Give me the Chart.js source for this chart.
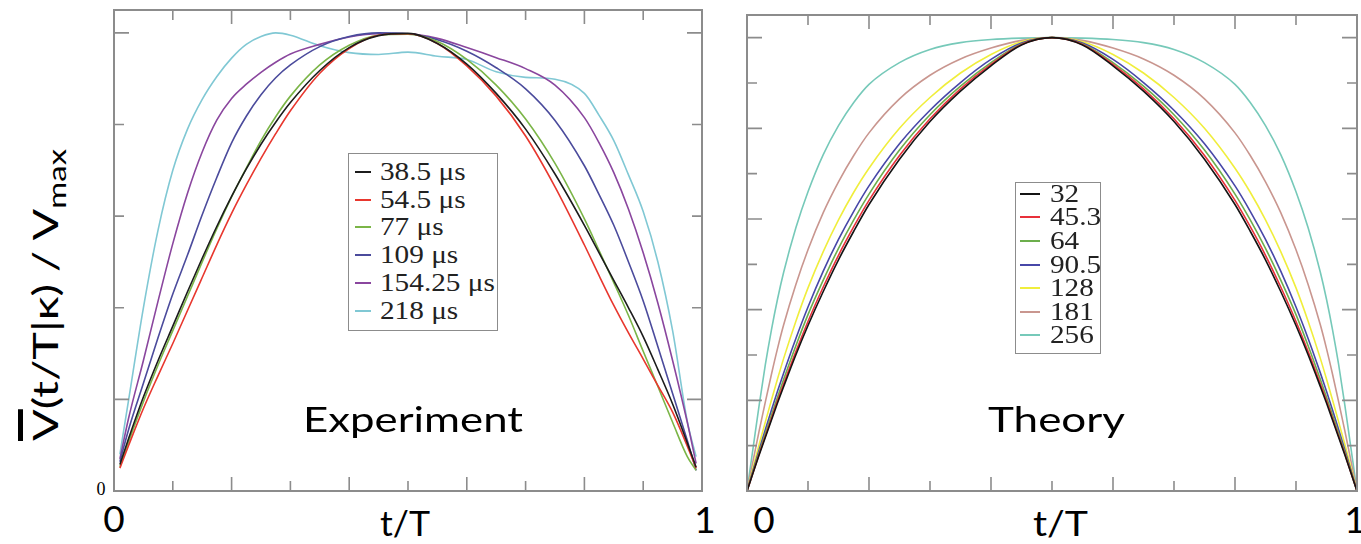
<!DOCTYPE html>
<html><head><meta charset="utf-8">
<script src="https://cdn.jsdelivr.net/npm/chart.js@4.4.0/dist/chart.umd.min.js"></script>
<style>
html,body{margin:0;padding:0;background:#fff;width:1361px;height:544px;overflow:hidden;position:relative;}
.cv{position:absolute;}
.txt{position:absolute;white-space:nowrap;line-height:1;}
.fit{display:inline-block;transform-origin:0 0;white-space:nowrap;}
.lbox{position:absolute;border:1.5px solid #8c8c8c;background:#fff;box-sizing:border-box;}
.sw{position:absolute;height:2px;}
</style></head><body>
<div class="cv" style="left:111px;top:7px;"><canvas id="cL" width="594" height="487"></canvas></div>
<div class="cv" style="left:744px;top:12px;"><canvas id="cR" width="616" height="482"></canvas></div>
<script>
// ---------- DATA ----------
const T_EXP = [0.01,0.025,0.05,0.075,0.1,0.125,0.15,0.175,0.2,0.225,0.25,0.275,0.3,0.35,0.4,0.45,0.5,0.55,0.6,0.65,0.7,0.75,0.8,0.825,0.85,0.875,0.9,0.925,0.95,0.975,0.99];
const EXP_LABELS = ['38.5 μs','54.5 μs','77 μs','109 μs','154.25 μs','218 μs'];
const EXP_38_5 = [0.058,0.115,0.205,0.285,0.36,0.435,0.508,0.578,0.643,0.703,0.757,0.805,0.848,0.918,0.968,0.994,0.999,0.977,0.932,0.868,0.79,0.692,0.58,0.52,0.46,0.4,0.337,0.265,0.19,0.105,0.052];
const EXP_54_5 = [0.05,0.10,0.18,0.252,0.322,0.394,0.466,0.538,0.606,0.668,0.726,0.78,0.83,0.912,0.966,0.995,0.998,0.977,0.928,0.862,0.775,0.664,0.537,0.47,0.405,0.345,0.288,0.23,0.172,0.098,0.05];
const EXP_77 = [0.053,0.108,0.195,0.275,0.35,0.425,0.5,0.573,0.642,0.705,0.765,0.817,0.862,0.93,0.973,0.995,0.997,0.981,0.942,0.886,0.812,0.715,0.594,0.525,0.455,0.383,0.305,0.228,0.15,0.075,0.045];
const EXP_109 = [0.064,0.135,0.235,0.335,0.43,0.515,0.603,0.685,0.76,0.818,0.865,0.902,0.93,0.97,0.992,1.0,0.998,0.985,0.96,0.924,0.878,0.809,0.71,0.647,0.58,0.5,0.415,0.315,0.213,0.11,0.045];
const EXP_154_25 = [0.07,0.16,0.285,0.415,0.54,0.65,0.74,0.81,0.857,0.888,0.914,0.936,0.954,0.975,0.991,0.998,0.998,0.988,0.968,0.946,0.922,0.886,0.815,0.76,0.695,0.615,0.52,0.41,0.285,0.15,0.06];
const EXP_218 = [0.08,0.2,0.4,0.57,0.7,0.79,0.855,0.905,0.945,0.975,0.992,1.0,0.995,0.972,0.957,0.953,0.958,0.949,0.942,0.915,0.903,0.899,0.868,0.82,0.765,0.69,0.61,0.5,0.35,0.152,0.075];

const T_TH = [0,0.01,0.02,0.03,0.04,0.05,0.06,0.08,0.1,0.125,0.15,0.175,0.2,0.25,0.3,0.35,0.4,0.45,0.5,0.55,0.6,0.65,0.7,0.75,0.8,0.825,0.85,0.875,0.9,0.92,0.94,0.95,0.96,0.97,0.98,0.99,1];
const TH_LABELS = ['32','45.3','64','90.5','128','181','256'];
const TH_32 = [0,.04,.08,.118,.156,.194,.23,.3,.365,.44,.51,.573,.632,.732,.815,.882,.938,.984,1,.984,.938,.882,.815,.732,.632,.573,.51,.44,.365,.3,.23,.194,.156,.118,.08,.04,0];
const TH_45_3 = [0,.041,.082,.121,.16,.199,.236,.307,.374,.45,.52,.583,.641,.74,.821,.887,.941,.985,1,.985,.941,.887,.821,.74,.641,.583,.52,.45,.374,.307,.236,.199,.16,.121,.082,.041,0];
const TH_64 = [0,.043,.086,.127,.167,.207,.246,.32,.389,.465,.535,.598,.655,.752,.83,.893,.945,.986,1,.986,.945,.893,.83,.752,.655,.598,.535,.465,.389,.32,.246,.207,.167,.127,.086,.043,0];
const TH_90_5 = [0,.046,.091,.135,.178,.22,.26,.336,.406,.485,.555,.617,.673,.766,.84,.901,.952,.988,1,.988,.952,.901,.84,.766,.673,.617,.555,.485,.406,.336,.26,.22,.178,.135,.091,.046,0];
const TH_128 = [0,.052,.103,.152,.2,.247,.292,.374,.448,.528,.598,.659,.712,.8,.868,.922,.963,.991,1,.991,.963,.922,.868,.8,.712,.659,.598,.528,.448,.374,.292,.247,.2,.152,.103,.052,0];
const TH_181 = [0,.067,.133,.196,.257,.314,.366,.455,.532,.614,.682,.74,.79,.865,.917,.953,.977,.994,1,.994,.977,.953,.917,.865,.79,.74,.682,.614,.532,.455,.366,.314,.257,.196,.133,.067,0];
const TH_256 = [0,.095,.19,.278,.355,.423,.482,.58,.66,.742,.806,.857,.897,.945,.974,.989,.996,.999,1,.999,.996,.989,.974,.945,.897,.857,.806,.742,.66,.58,.482,.423,.355,.278,.19,.095,0];

const X_MAJOR = [0.2,0.4,0.6,0.8];
const X_MINOR = [0.1,0.3,0.5,0.7,0.9];
const Y_MAJOR_EXP = [0.2,1.0];
const Y_MINOR_EXP = [0.4,0.6,0.8];
const Y_MAJOR_TH = [0.2,0.4,0.6,0.8,1.0];
const Y_MINOR_TH = [0.1,0.3,0.5,0.7,0.9];

// ---------- STYLE ----------
const EXP_COLORS = ['#1c1c1c','#e8372e','#7bb547','#4b4b9c','#8a469e','#80c8d4'];
const TH_COLORS = ['#141414','#e8303a','#6cae4c','#4747a8','#f0ee3c','#c9968f','#76c9b9'];

const frameTicks = {
  id:'frameTicks',
  afterDatasetsDraw(chart, args, o){
    const {ctx, chartArea:a} = chart; const x=chart.scales.x, y=chart.scales.y;
    ctx.save(); ctx.strokeStyle='#8c8c8c'; ctx.lineWidth=1.6; ctx.beginPath();
    const xt=(v,L)=>{const p=x.getPixelForValue(v); ctx.moveTo(p,a.bottom); ctx.lineTo(p,a.bottom-L); ctx.moveTo(p,a.top); ctx.lineTo(p,a.top+L);};
    const yt=(v,L)=>{const p=y.getPixelForValue(v); ctx.moveTo(a.left,p); ctx.lineTo(a.left+L,p); ctx.moveTo(a.right,p); ctx.lineTo(a.right-L,p);};
    o.xMajor.forEach(v=>xt(v,14)); o.xMinor.forEach(v=>xt(v,10));
    o.yMajor.forEach(v=>yt(v,15)); o.yMinor.forEach(v=>yt(v,10));
    ctx.stroke();
    ctx.lineWidth=2; ctx.strokeRect(a.left,a.top,a.right-a.left,a.bottom-a.top);
    ctx.restore();
  }
};

function mk(canvasId, T, series, labels, colors, yMaj, yMin){
  return new Chart(document.getElementById(canvasId), {
    type:'line',
    data:{ datasets: series.map((s,i)=>({label:labels[i], data:T.map((t,j)=>({x:t,y:s[j]})), borderColor:colors[i], backgroundColor:colors[i], borderWidth:1.6, pointRadius:0, cubicInterpolationMode:'monotone', fill:false})) },
    options:{ responsive:false, animation:false, devicePixelRatio:1,
      layout:{padding:3},
      scales:{ x:{type:'linear',min:0,max:1,display:false}, y:{min:0,max:1.05,display:false} },
      plugins:{ legend:{display:false}, tooltip:{enabled:false},
        frameTicks:{xMajor:X_MAJOR,xMinor:X_MINOR,yMajor:yMaj,yMinor:yMin} } },
    plugins:[frameTicks]
  });
}
const chL = mk('cL', T_EXP, [EXP_38_5,EXP_54_5,EXP_77,EXP_109,EXP_154_25,EXP_218], EXP_LABELS, EXP_COLORS, Y_MAJOR_EXP, Y_MINOR_EXP);
const chR = mk('cR', T_TH, [TH_32,TH_45_3,TH_64,TH_90_5,TH_128,TH_181,TH_256], TH_LABELS, TH_COLORS, Y_MAJOR_TH, Y_MINOR_TH);

// ---------- TEXT ----------
const SANS = "Lato, 'Open Sans', sans-serif";
const SERIF = "'Liberation Serif', 'DejaVu Serif', serif";
function place(txt, o){
  const d=document.createElement('div'); d.className='txt';
  d.style.fontSize=o.size+'px'; d.style.fontFamily=o.family||SANS; d.style.color=o.color||'#000';
  const f=document.createElement('span'); f.className='fit';
  if(o.html) f.innerHTML=txt; else f.textContent=txt;
  const m=document.createElement('span'); m.style.cssText='display:inline-block;width:0;height:0;vertical-align:baseline';
  f.appendChild(m); d.appendChild(f); document.body.appendChild(d);
  d.style.left='0px'; d.style.top='0px';
  const w=f.getBoundingClientRect().width;
  const b=m.getBoundingClientRect().top-d.getBoundingClientRect().top;
  const s=o.width? o.width/w : (o.scale||1);
  f.style.transform='scaleX('+s+')';
  if(o.rotate){
    d.style.transformOrigin='0 0'; d.style.transform='rotate(-90deg)';
    d.style.left=(o.x-b)+'px'; d.style.top=o.y+'px';
    return d;
  }
  let left=o.x; if(o.anchor==='center') left=o.x-w*s/2; else if(o.anchor==='right') left=o.x-w*s;
  d.style.left=left+'px'; d.style.top=(o.y-b)+'px';
  return d;
}
// panel texts
place('Experiment',{x:303,y:432,size:35,width:220});
place('Theory',{x:988,y:432,size:35,width:137});
place('0',{x:114,y:532,size:37,anchor:'center'});
place('1',{x:705,y:533,size:37,anchor:'center'});
place('0',{x:764,y:533,size:37,anchor:'center'});
place('1',{x:1355,y:533,size:37,anchor:'center'});
place('t/T',{x:405,y:536,size:34,anchor:'center',width:50});
place('t/T',{x:1060,y:536,size:34,anchor:'center',width:55});
place('0',{x:101,y:495,size:18,family:SERIF,anchor:'center'});
// y-axis title (rotated)
place('<span style="text-decoration:overline;text-decoration-thickness:5px">V</span>(t/T|κ) / V<sub style="font-size:0.7em">max</sub>',{x:58,y:441,size:35,html:true,rotate:true,width:292});

// legends built from the chart datasets
function legend(chart, box, rows){
  const lb=document.createElement('div'); lb.className='lbox';
  lb.style.left=box.x+'px'; lb.style.top=box.y+'px'; lb.style.width=box.w+'px'; lb.style.height=box.h+'px';
  document.body.appendChild(lb);
  chart.data.datasets.forEach((ds,i)=>{
    const base=rows.b0+rows.dy*i;
    const sw=document.createElement('div'); sw.className='sw';
    sw.style.left=rows.sx+'px'; sw.style.width=rows.sw+'px'; sw.style.top=(base-9)+'px'; sw.style.background=ds.borderColor;
    document.body.appendChild(sw);
    place(ds.label,{x:rows.tx,y:base,size:25,family:SERIF,scale:1.17,color:'#222'});
  });
}
legend(chL,{x:348,y:153,w:150,h:178},{b0:180,dy:27.7,sx:355,sw:16,tx:380});
legend(chR,{x:1015,y:182,w:86,h:172},{b0:201.7,dy:23.6,sx:1020,sw:20,tx:1050});
</script>
</body></html>
